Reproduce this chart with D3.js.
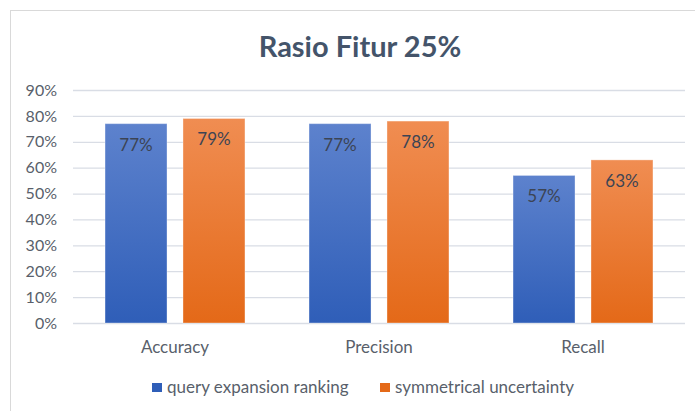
<!DOCTYPE html>
<html>
<head>
<meta charset="utf-8">
<script src="https://cdn.jsdelivr.net/npm/d3@7"></script>
<style>
  body { margin: 0; background: #fff; }
  .axis path { display: none; }
  .axis line { stroke: #d9dde5; stroke-width: 1.3; }
  .axis text { font-family: Lato, sans-serif; font-size: 16px; fill: #595f6b; }
</style>
</head>
<body>
<div id="chart"></div>
<script>
var title = "Rasio Fitur 25%";
var categories = ["Accuracy", "Precision", "Recall"];
var series = ["query expansion ranking", "symmetrical uncertainty"];
var qer = [0.77, 0.77, 0.57];
var su = [0.79, 0.78, 0.63];
var ticks = [0, 0.1, 0.2, 0.3, 0.4, 0.5, 0.6, 0.7, 0.8, 0.9];

var colors = {blue: ["#5d82cd", "#2f5eb8"], orange: ["#f08d52", "#e46918"]};
var series_colors = [colors.blue, colors.orange];

var W = 695, H = 411;
var margin = {left: 73, right: 10, top: 90, bottom: 88};
var width = W - margin.left - margin.right, height = H - margin.top - margin.bottom;

var svg = d3.select("#chart").append("svg")
    .attr("width", W)
    .attr("height", H);

// gradients
var defs = svg.append("defs");
series_colors.forEach(function(c, i){
  var g = defs.append("linearGradient")
      .attr("id", "grad" + i)
      .attr("x1", 0).attr("y1", 0).attr("x2", 0).attr("y2", 1);
  g.append("stop").attr("offset", "0%").attr("stop-color", c[0]);
  g.append("stop").attr("offset", "100%").attr("stop-color", c[1]);
});

// outer frame
svg.append("rect")
    .attr("x", 10.5).attr("y", 10.5)
    .attr("width", W + 20).attr("height", H + 20)
    .attr("fill", "none")
    .attr("stroke", "#d9d9d9");

svg.append("text")
    .attr("x", 360)
    .attr("y", 57)
    .attr("text-anchor", "middle")
    .style("font-family", "Lato, sans-serif")
    .style("font-size", "29px")
    .style("font-weight", "bold")
    .style("fill", "#44546a")
    .text(title);

var g = svg.append("g")
    .attr("transform", "translate(" + margin.left + "," + margin.top + ")");

var x0 = d3.scaleBand()
    .domain(categories)
    .range([0, width])
    .paddingInner(0.314)
    .paddingOuter(0.157);

var x1 = d3.scaleBand()
    .domain(d3.range(series.length))
    .range([0, x0.bandwidth()])
    .paddingInner(0.205);

var y = d3.scaleLinear()
    .domain([0, 0.9])
    .range([height, 0]);

g.append("g")
    .attr("class", "axis")
    .call(d3.axisLeft(y).tickValues(ticks).tickSize(-width).tickPadding(16).tickFormat(d3.format(".0%")));

var data = categories.map(function(c, i){
  return {cat: c, values: [qer[i], su[i]]};
});

var groups = g.selectAll(".cat")
    .data(data).enter().append("g")
    .attr("class", "cat")
    .attr("transform", function(d){ return "translate(" + x0(d.cat) + ",0)"; });

var bars = groups.selectAll("g")
    .data(function(d){ return d.values.map(function(v, i){ return {v: v, i: i}; }); })
    .enter().append("g");

bars.append("rect")
    .attr("x", function(d){ return x1(d.i); })
    .attr("y", function(d){ return y(d.v); })
    .attr("width", x1.bandwidth())
    .attr("height", function(d){ return height - y(d.v); })
    .attr("fill", function(d){ return "url(#grad" + d.i + ")"; })
    .attr("stroke", "rgba(255,255,255,0.35)")
    .attr("stroke-width", 1);

bars.append("text")
    .attr("x", function(d){ return x1(d.i) + x1.bandwidth() / 2; })
    .attr("y", function(d){ return y(d.v) + 27; })
    .attr("text-anchor", "middle")
    .style("font-family", "Lato, sans-serif")
    .style("font-size", "17px")
    .style("fill", "#3c4454")
    .text(function(d){ return d3.format(".0%")(d.v); });

// category labels
g.selectAll(".cat-label")
    .data(categories).enter().append("text")
    .attr("class", "cat-label")
    .attr("x", function(d){ return x0(d) + x0.bandwidth() / 2; })
    .attr("y", height + 30)
    .attr("text-anchor", "middle")
    .style("font-family", "Lato, sans-serif")
    .style("font-size", "17px")
    .style("fill", "#595f6b")
    .text(function(d){ return d; });

// legend
var legend_x = [152, 380];
var legend = svg.selectAll(".legend")
    .data(series).enter().append("g")
    .attr("class", "legend")
    .attr("transform", function(d, i){ return "translate(" + legend_x[i] + ",383)"; });

legend.append("rect")
    .attr("width", 10).attr("height", 9)
    .attr("fill", function(d, i){ return series_colors[i][1]; });

legend.append("text")
    .attr("x", 15)
    .attr("y", 10)
    .style("font-family", "Lato, sans-serif")
    .style("font-size", "17px")
    .style("fill", "#595f6b")
    .text(function(d){ return d; });
</script>
</body>
</html>
